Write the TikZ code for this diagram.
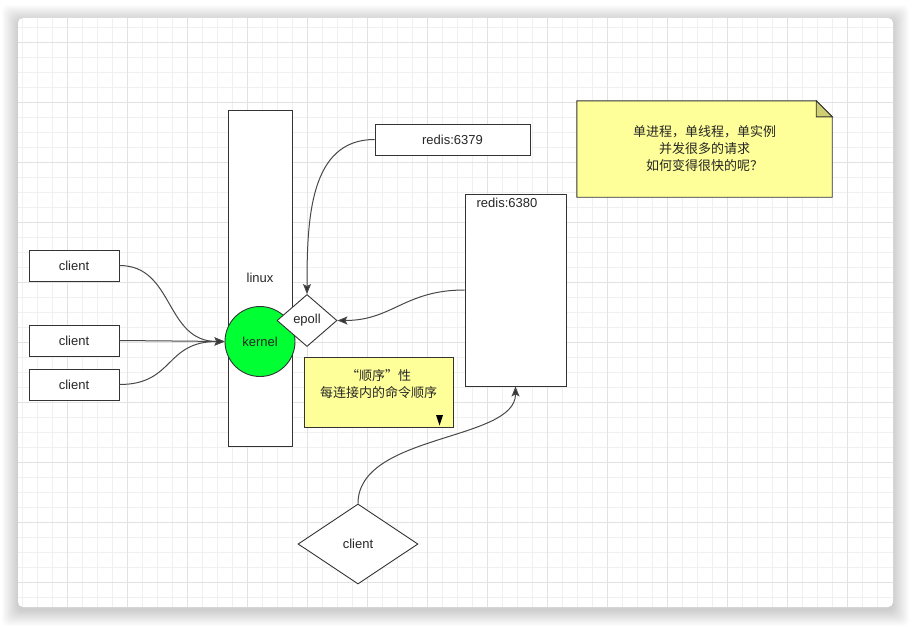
\documentclass[tikz,border=0pt]{standalone}
\usepackage{fontspec}
\setmainfont{Liberation Sans}
\newfontfamily\cjk{Noto Sans CJK SC}
\usetikzlibrary{positioning,shapes.geometric,arrows.meta}
\definecolor{edgegray}{HTML}{484848}
\definecolor{boxline}{HTML}{333333}
\definecolor{notefill}{HTML}{FFFF99}
\definecolor{foldfill}{HTML}{CFCF72}
\definecolor{kernelgreen}{HTML}{00FF33}
\definecolor{gridminor}{HTML}{F0F0F0}
\definecolor{gridmajor}{HTML}{E2E2E2}

\begin{document}
\begin{tikzpicture}[x=1pt,y=-1pt,
    txt/.style={font=\fontsize{13}{17}\selectfont,text=black!85},
    box/.style={draw=boxline,fill=white,line width=0.9pt,inner sep=0pt,txt},
    rhombus/.style={diamond,draw=boxline,fill=white,line width=0.9pt,inner sep=0pt,txt},
    yellowbox/.style={draw=boxline,fill=notefill,line width=0.9pt,inner sep=0pt,txt,align=center},
    conn/.style={draw=edgegray,line width=1pt,-{Stealth[length=10pt,width=8pt,inset=2pt,fill=boxline]}}
  ]
    % Page with shadow
    \useasboundingbox (0,0) rectangle (912,626);
    \fill[white] (0,0) rectangle (912,626);
    \foreach \s in {1,...,16}
      \fill[black,opacity=0.011,rounded corners=6pt] (18-\s,18-\s+3) rectangle (893+\s,607+\s+3);
    \fill[white,rounded corners=5pt] (18,18) rectangle (893,607);

    % Grid
    \begin{scope}
      \clip[rounded corners=5pt] (18,18) rectangle (893,607);
      \foreach \x in {22.3,37.3,...,892}
        \draw[gridminor,line width=0.8pt] (\x,18) -- (\x,607);
      \foreach \y in {27.3,42.3,...,606}
        \draw[gridminor,line width=0.8pt] (18,\y) -- (893,\y);
      \foreach \x in {67.3,127.3,...,892}
        \draw[gridmajor,line width=0.8pt] (\x,18) -- (\x,607);
      \foreach \y in {42.3,102.3,...,606}
        \draw[gridmajor,line width=0.8pt] (18,\y) -- (893,\y);
    \end{scope}

    % Clients on the left
    \node[box,minimum width=90pt,minimum height=31pt] (client1) at (74,265.5) {client};
    \node[box,minimum width=90pt,minimum height=31pt] (client2) at (74,340.5) {client};
    \node[box,minimum width=90pt,minimum height=31pt] (client3) at (74,384.5) {client};

    % Linux with kernel and epoll
    \node[box,minimum width=64pt,minimum height=336pt] (linux) at (260,278) {linux};
    \node[circle,draw=boxline,fill=kernelgreen,line width=0.9pt,minimum size=70pt,inner sep=0pt,txt] (kernel) at (260,341.5) {kernel};
    \node[rhombus,minimum width=60pt,minimum height=52pt] (epoll) at (307,320.5) {epoll};

    % Redis instances
    \node[box,minimum width=155pt,minimum height=31pt] (redis1) at (452.5,139.5) {redis:6379};
    \node[box,minimum width=101pt,minimum height=192pt] (redis2) at (515.5,290) {};
    \node[txt] (redis2label) at (507,202.5) {redis:6380};

    % Ordering note
    \node[yellowbox,minimum width=149pt,minimum height=70pt] (order) at (378.5,392) {};
    \node[txt,align=center] (ordertext) at (378.5,384.5) {\cjk “顺序”性\\\cjk 每连接内的命令顺序};
    \fill[black] (436,415) -- (443,415) -- (439.5,425.5) -- cycle;

    % Question note with folded corner
    \node[txt,minimum width=255pt,minimum height=96pt] (note) at (704.5,149) {};
    \filldraw[draw=boxline,fill=notefill,line width=0.9pt]
      (note.north west) -- ([xshift=-16pt]note.north east) -- ([yshift=-16pt]note.north east)
      -- (note.south east) -- (note.south west) -- cycle;
    \filldraw[draw=boxline,fill=foldfill,line width=0.9pt]
      ([xshift=-16pt]note.north east) -- ([xshift=-16pt,yshift=-16pt]note.north east)
      -- ([yshift=-16pt]note.north east) -- cycle;
    \node[txt,align=center] (notetext) at (704.5,149) {\cjk 单进程，单线程，单实例\\\cjk 并发很多的请求\\\cjk 如何变得很快的呢？};

    % Client at the bottom
    \node[rhombus,minimum width=120pt,minimum height=80pt] (client4) at (358,544) {client};

    % Connectors
    \draw[conn] (client1.east) .. controls +(55,0) and +(-60,0) .. (kernel.west);
    \draw[conn] (client2.east) -- (kernel.west);
    \draw[conn] (client3.east) .. controls +(55,0) and +(-60,0) .. (kernel.west);
    \draw[conn] (redis1.west) .. controls +(-65,0) and +(0,-75) .. (epoll.north);
    \draw[conn] (redis2.west) .. controls +(-60,0) and +(55,0) .. (epoll.east);
    \draw[conn] (client4.north) .. controls +(0,-70) and +(0,55) .. (redis2.south);
\end{tikzpicture}
\end{document}
